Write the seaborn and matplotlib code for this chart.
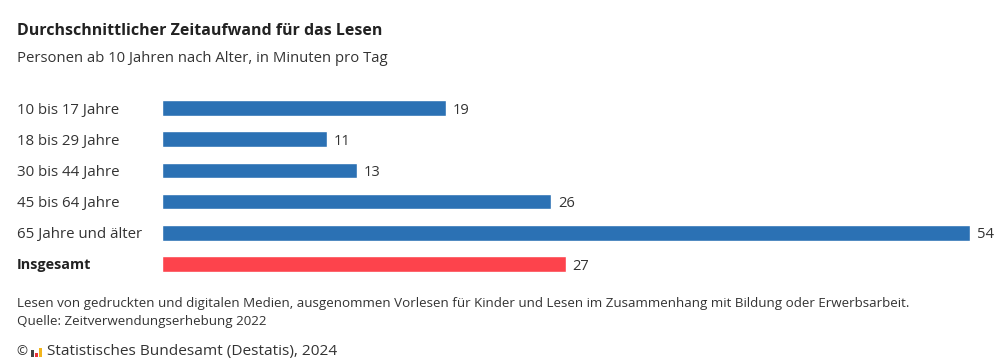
import pandas as pd
import matplotlib.pyplot as plt
import seaborn as sns
from matplotlib.patches import Rectangle

# --- Data ---
categories = ["10 bis 17 Jahre", "18 bis 29 Jahre", "30 bis 44 Jahre",
              "45 bis 64 Jahre", "65 Jahre und älter", "Insgesamt"]
minutes = [19, 11, 13, 26, 54, 27]
bar_colors = ["#2b71b4"] * 5 + ["#fd434c"]

title = "Durchschnittlicher Zeitaufwand für das Lesen"
subtitle = "Personen ab 10 Jahren nach Alter, in Minuten pro Tag"
note = ("Lesen von gedruckten und digitalen Medien, ausgenommen Vorlesen für Kinder "
        "und Lesen im Zusammenhang mit Bildung oder Erwerbsarbeit.")
source = "Quelle: Zeitverwendungserhebung 2022"
copyright_text = "Statistisches Bundesamt (Destatis), 2024"

df = pd.DataFrame({"Gruppe": categories, "Minuten": minutes})

sns.set_theme(style="white")
plt.rcParams["font.family"] = ["Open Sans", "DejaVu Sans"]
TXT = "#333333"

fig = plt.figure(figsize=(9.99, 3.62), dpi=100)
ax = fig.add_axes([162 / 999, 1 - 279.6 / 362, 808 / 999, (279.6 - 92.4) / 362])

sns.barplot(data=df, x="Minuten", y="Gruppe", hue="Gruppe", palette=bar_colors,
            legend=False, width=0.5, saturation=1, ax=ax)

ax.set_xlim(0, 54)
ax.set_ylim(5.5, -0.5)
ax.set_xlabel("")
ax.set_ylabel("")
ax.set_xticks([])
sns.despine(ax=ax, left=True, bottom=True)

# value labels
for i, v in enumerate(minutes):
    ax.text(v + 0.45, i, str(v), va="center_baseline", ha="left", fontsize=10.6,
            color=TXT, clip_on=False)

# category labels, left aligned
ax.tick_params(axis="y", length=0, pad=104.4)
for i, lab in enumerate(ax.get_yticklabels()):
    lab.set_ha("left")
    lab.set_va("center_baseline")
    lab.set_fontsize(10.8)
    lab.set_color("#222222" if i == len(categories) - 1 else TXT)
    if i == len(categories) - 1:
        lab.set_fontweight("bold")
        lab.set_fontsize(10.4)

# header
fig.text(17 / 999, 1 - 31 / 362, title, fontsize=11.5, fontweight="bold",
         color="#222222", va="center", ha="left")
fig.text(17 / 999, 1 - 58 / 362, subtitle, fontsize=10.7, color=TXT,
         va="center", ha="left")

# footer
fig.text(17 / 999, 1 - 304 / 362, note, fontsize=9.6, color=TXT, va="center", ha="left")
fig.text(17 / 999, 1 - 322 / 362, source, fontsize=9.6, color=TXT, va="center", ha="left")
fig.text(16 / 999, 1 - 352 / 362, "©", fontsize=9.5, color=TXT, va="center", ha="left")
for x0, h, c in [(31, 7, "#444444"), (35, 4, "#e8313a"), (39, 9, "#f2b51b")]:
    fig.add_artist(Rectangle((x0 / 999, (362 - 357) / 362), 3 / 999, h / 362,
                             transform=fig.transFigure, color=c, lw=0))
fig.text(47 / 999, 1 - 352 / 362, copyright_text, fontsize=11.1, color=TXT,
         va="center", ha="left")

fig.savefig("out.png", dpi=100)
